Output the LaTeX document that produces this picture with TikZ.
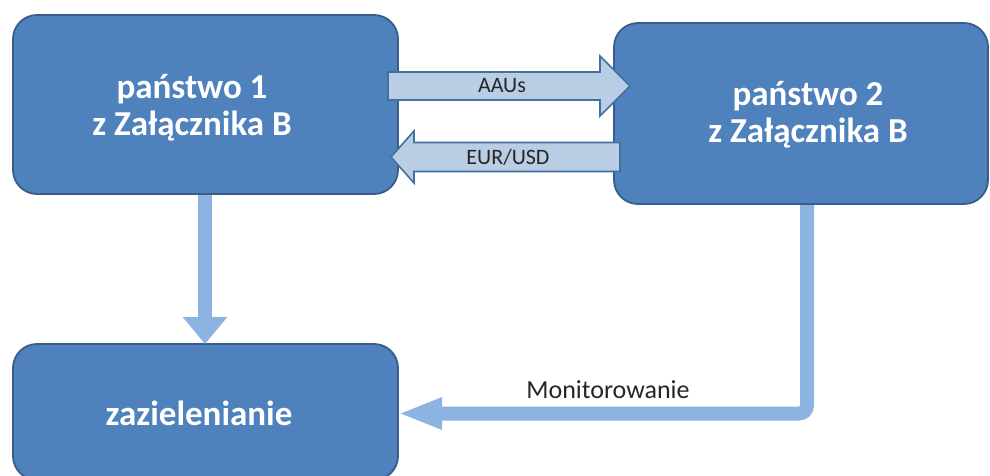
\documentclass[tikz,border=0pt]{standalone}
\usepackage{fontspec}
\setmainfont{Carlito}
\usetikzlibrary{arrows.meta,calc}

\definecolor{boxfill}{HTML}{4F81BD}
\definecolor{boxline}{HTML}{385D8A}
\definecolor{flowfill}{HTML}{B9CDE5}
\definecolor{flowline}{HTML}{41719C}
\definecolor{linkblue}{HTML}{8DB3E2}

\tikzset{
  statebox/.style={draw=boxline, line width=1.8pt, fill=boxfill,
    rounded corners=24pt, inner sep=0pt},
  boxtext/.style={text=white, font=\fontsize{35}{35}\selectfont\bfseries,
    align=center},
  flowarrow/.style={draw=flowline, line width=1.6pt, fill=flowfill,
    line join=miter},
  flowlabel/.style={text=black!85, font=\fontsize{22}{22}\selectfont},
  link/.style={draw=linkblue, line width=14pt, rounded corners=8pt},
  linklabel/.style={text=black!85, font=\fontsize{26}{26}\selectfont},
}

% horizontal block arrow: #1 start, #2 tip, #3 shaft half height,
% #4 head half height, #5 head length
\newcommand\blockarrow[5]{%
  \path[flowarrow] let \p1=(#1), \p2=(#2), \n1={sign(\x2-\x1)} in
    (\x1,\y1+#3pt) -- (\x2-\n1*#5pt,\y1+#3pt) -- (\x2-\n1*#5pt,\y1+#4pt)
    -- (\x2,\y1) -- (\x2-\n1*#5pt,\y1-#4pt) -- (\x2-\n1*#5pt,\y1-#3pt)
    -- (\x1,\y1-#3pt) -- cycle;}

\begin{document}
\begin{tikzpicture}[x=1pt,y=-1pt]
  \useasboundingbox (0,0) rectangle (990,476);

  % the three blocks
  \path[statebox] (13,15) rectangle (398,194);
  \path[statebox] (614,23) rectangle (988,204);
  \path[statebox] (13,344) rectangle (398,480);
  \node (b1) [boxtext] at (192,108) {państwo 1\\[2pt] z Załącznika B};
  \node (b2) [boxtext] at (808,115) {państwo 2\\[2pt] z Załącznika B};
  \node (b3) [boxtext] at (199,413) {zazielenianie};

  % exchange between the two countries
  \coordinate (aauS) at (388,86);
  \coordinate (aauE) at (630,86);
  \coordinate (eurS) at (620,157);
  \coordinate (eurE) at (391,157);
  \blockarrow{aauS}{aauE}{14}{30}{30}
  \blockarrow{eurS}{eurE}{14.5}{26}{23}
  \node (aau) [flowlabel] at (502,86) {AAUs};
  \node (eur) [flowlabel] at (508,157) {EUR/USD};

  % links to the greening block
  \coordinate (d1) at (205,195);
  \coordinate (d2) at (205,344);
  \draw[link, -{Triangle[width=43pt,length=27pt]}] (d1) -- (d2);

  \coordinate (m1) at (807,205);
  \coordinate (m2) at (807,413.5);
  \coordinate (m3) at (398,413.5);
  \draw[link, -{Triangle[width=29pt,length=44pt]}] (m1) -- (m2) -- (m3);
  \node (mon) [linklabel] at (608,390) {Monitorowanie};
\end{tikzpicture}
\end{document}
